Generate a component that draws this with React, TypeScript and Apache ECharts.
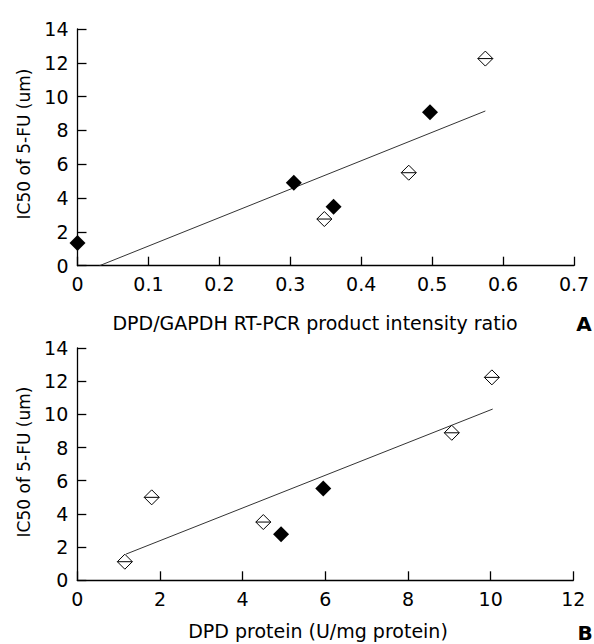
import React, { useEffect, useRef } from "react";
import * as echarts from "echarts";

const yTicks = [0, 2, 4, 6, 8, 10, 12, 14];
const aXTicks = [0, 0.1, 0.2, 0.3, 0.4, 0.5, 0.6, 0.7];
const bXTicks = [0, 2, 4, 6, 8, 10, 12];

const aFilled: [number, number][] = [
  [0.0, 1.35],
  [0.305, 4.9],
  [0.361, 3.49],
  [0.497, 9.07],
];
const aOpen: [number, number][] = [
  [0.348, 2.76],
  [0.467, 5.5],
  [0.575, 12.25],
];
const aFit: [number, number][] = [
  [0.031, 0],
  [0.575, 9.15],
];

const bFilled: [number, number][] = [
  [4.93, 2.77],
  [5.95, 5.54],
];
const bOpen: [number, number][] = [
  [1.15, 1.12],
  [1.8, 5.0],
  [4.5, 3.51],
  [9.06, 8.89],
  [10.03, 12.23],
];
const bFit: [number, number][] = [
  [1.18, 1.58],
  [10.05, 10.32],
];

const FONT = "DejaVu Sans";
const openSymbol = "path://M0,-10 L10,0 L0,10 L-10,0 Z M-10,0 L10,0";

export default function App() {
  const ref = useRef<HTMLDivElement>(null);
  useEffect(() => {
    if (!ref.current) return;
    const chart = echarts.init(ref.current, undefined, { renderer: "svg" });
    const axisCommon = {
      axisLine: { show: true, lineStyle: { color: "#000", width: 1.3 } },
      axisTick: { show: true, inside: true, length: 9, lineStyle: { color: "#000", width: 1.3 } },
      splitLine: { show: false },
      axisLabel: { color: "#000", fontFamily: FONT, fontSize: 19 },
    };
    const yAxisDef = (gridIndex: number) => ({
      type: "value",
      gridIndex,
      min: yTicks[0],
      max: yTicks[yTicks.length - 1],
      interval: 2,
      ...axisCommon,
      axisLabel: { ...axisCommon.axisLabel, margin: 9 },
    });
    const scatterFilled = (data: [number, number][], idx: number) => ({
      type: "scatter",
      xAxisIndex: idx,
      yAxisIndex: idx,
      data,
      symbol: "diamond",
      symbolSize: 16,
      itemStyle: { color: "#000", opacity: 1 },
      z: 3,
    });
    const scatterOpen = (data: [number, number][], idx: number) => ({
      type: "scatter",
      xAxisIndex: idx,
      yAxisIndex: idx,
      data,
      symbol: openSymbol,
      symbolSize: 15,
      itemStyle: { color: "#fff", borderColor: "#000", borderWidth: 1, opacity: 1 },
      z: 3,
    });
    const fitLine = (data: [number, number][], idx: number) => ({
      type: "line",
      xAxisIndex: idx,
      yAxisIndex: idx,
      data,
      showSymbol: false,
      symbol: "none",
      lineStyle: { color: "#333", width: 1 },
      z: 2,
    });
    const txt = (text: string, x: number, y: number, size: number, extra: any = {}) => ({
      type: "text",
      x,
      y,
      ...extra,
      style: {
        text,
        fontFamily: FONT,
        fontSize: size,
        fill: "#000",
        align: "center",
        verticalAlign: "middle",
        ...(extra.style || {}),
      },
    });
    chart.setOption({
      animation: false,
      backgroundColor: "#fff",
      grid: [
        { left: 77.5, right: 20, top: 29, height: 236.7 },
        { left: 77.3, right: 20.7, top: 348, height: 232.3 },
      ],
      xAxis: [
        {
          type: "value",
          gridIndex: 0,
          min: aXTicks[0],
          max: aXTicks[aXTicks.length - 1],
          interval: 0.1,
          ...axisCommon,
          axisLabel: { ...axisCommon.axisLabel, margin: 9 },
        },
        {
          type: "value",
          gridIndex: 1,
          min: bXTicks[0],
          max: bXTicks[bXTicks.length - 1],
          interval: 2,
          ...axisCommon,
          axisLabel: { ...axisCommon.axisLabel, margin: 9 },
        },
      ],
      yAxis: [yAxisDef(0), yAxisDef(1)],
      graphic: [
        txt("DPD/GAPDH RT-PCR product intensity ratio", 315, 323, 19),
        txt("DPD protein (U/mg protein)", 318, 631, 19),
        txt("IC50 of 5-FU (um)", 24, 144, 17, { rotation: Math.PI / 2 }),
        txt("IC50 of 5-FU (um)", 24, 462, 17, { rotation: Math.PI / 2 }),
        txt("A", 584, 324, 20, { style: { fontWeight: "bold" } }),
        txt("B", 585, 633, 20, { style: { fontWeight: "bold" } }),
      ],
      series: [
        fitLine(aFit, 0),
        scatterFilled(aFilled, 0),
        scatterOpen(aOpen, 0),
        fitLine(bFit, 1),
        scatterFilled(bFilled, 1),
        scatterOpen(bOpen, 1),
      ],
    });
    return () => chart.dispose();
  }, []);
  return (
    <div
      ref={ref}
      style={{ position: "absolute", left: 0, top: 0, width: 594, height: 644 }}
    />
  );
}
